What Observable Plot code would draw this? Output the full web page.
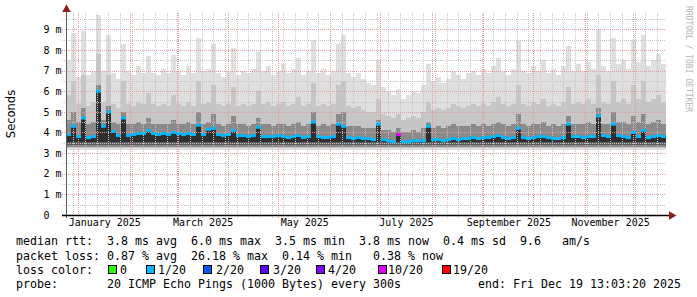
<!DOCTYPE html>
<html>
<head>
<meta charset="utf-8">
<script src="https://cdn.jsdelivr.net/npm/d3@7"></script>
<script src="https://cdn.jsdelivr.net/npm/@observablehq/plot@0.6"></script>
<style>
  html, body { margin: 0; padding: 0; background: #ffffff; }
  #wrap { position: relative; width: 697px; height: 297px; overflow: hidden; background: #fff; }
  #wrap svg { position: absolute; left: 0; top: 0; }
  .leg { position: absolute; left: 16px; font-family: "DejaVu Sans Mono", monospace; font-size: 11.63px; line-height: 14px; white-space: pre; color: #000; }
  .box { position: absolute; width: 7px; height: 7px; border: 1px solid #000; }
  .ylab { position: absolute; font-family: "DejaVu Sans", sans-serif; font-size: 11.5px; color: #000; transform: translate(-50%, -50%) rotate(-90deg); left: 10.5px; top: 114px; white-space: nowrap; }
  .credit { position: absolute; font-family: "DejaVu Sans Mono", monospace; font-size: 8px; color: #b4b4b4; transform: translate(-50%, -50%) rotate(90deg); left: 688px; top: 59px; white-space: nowrap; }
</style>
</head>
<body>
<div id="wrap"></div>
<script>
// ---- time frame (graph end and span) ----
const graphEnd = "2025-12-19T13:03:20Z";
const spanDays = 360;
const binDays = 3;

// ---- per-bin values (ms), 120 bins of 3 days ----
// median rtt
const med = [
  3.9, 4.3, 3.8, 4.7, 3.75, 3.8, 6.0, 4.3, 5.0, 4.05,
  3.85, 4.7, 3.85, 3.9, 3.95, 3.95, 4.1, 3.95, 3.9, 3.95,
  3.9, 4.0, 3.95, 3.9, 3.95, 3.9, 4.35, 3.9, 4.15, 4.2,
  3.9, 3.85, 3.9, 4.1, 3.85, 3.85, 3.8, 3.85, 4.25, 3.8,
  3.8, 3.8, 3.85, 3.8, 3.75, 3.8, 3.85, 3.75, 3.8, 4.5,
  3.8, 3.75, 3.75, 3.8, 4.4, 4.3, 3.75, 3.7, 3.75, 3.7,
  3.7, 3.65, 4.4, 3.65, 3.6, 3.55, 3.9, 3.55, 3.55, 3.6,
  3.6, 3.6, 4.3, 3.65, 3.65, 3.6, 3.65, 3.7, 3.65, 3.7,
  3.7, 3.75, 3.7, 3.75, 3.75, 3.8, 3.85, 3.75, 3.7, 3.75,
  4.2, 3.75, 3.7, 3.75, 3.8, 3.8, 3.75, 3.7, 3.7, 3.75,
  4.4, 3.8, 3.8, 3.75, 3.8, 3.8, 4.8, 3.85, 3.8, 4.4,
  3.85, 3.8, 3.75, 4.0, 3.8, 4.1, 3.75, 3.8, 3.85, 3.8
];
// top of the dark smoke band
const q7 = [
  4.6, 5.0, 4.5, 5.2, 4.4, 4.5, 6.3, 4.6, 5.3, 4.5,
  4.4, 5.0, 4.4, 4.4, 4.5, 4.4, 4.7, 4.4, 4.4, 4.4,
  4.4, 4.6, 4.4, 4.4, 4.5, 4.4, 5.0, 4.4, 4.5, 4.9,
  4.4, 4.3, 4.4, 4.8, 4.4, 4.4, 4.3, 4.4, 4.7, 4.4,
  4.4, 4.3, 4.4, 4.4, 4.3, 4.4, 4.5, 4.3, 4.4, 5.0,
  4.3, 4.4, 4.3, 4.4, 4.9, 5.0, 4.3, 4.3, 4.3, 4.2,
  4.2, 4.2, 4.6, 4.1, 4.1, 4.0, 4.2, 4.0, 4.0, 4.1,
  4.0, 4.2, 4.5, 4.2, 4.3, 4.2, 4.3, 4.4, 4.3, 4.3,
  4.3, 4.4, 4.3, 4.4, 4.3, 4.4, 4.5, 4.4, 4.3, 4.4,
  4.9, 4.4, 4.3, 4.4, 4.4, 4.5, 4.3, 4.4, 4.3, 4.4,
  4.8, 4.4, 4.4, 4.4, 4.5, 4.4, 5.2, 4.4, 4.4, 5.0,
  4.5, 4.5, 4.4, 4.8, 4.5, 4.9, 4.4, 4.5, 4.6, 4.4
];
// top of the mid smoke band
const q9 = [
  5.8, 6.5, 5.4, 6.8, 5.3, 5.5, 7.8, 5.5, 6.8, 5.4,
  5.2, 6.5, 5.4, 5.3, 5.5, 5.4, 5.9, 5.4, 5.3, 5.4,
  5.3, 5.8, 5.4, 5.3, 5.5, 5.3, 6.5, 5.4, 5.5, 6.3,
  5.4, 5.3, 5.4, 6.2, 5.3, 5.4, 5.3, 5.4, 6.0, 5.4,
  5.5, 5.3, 5.4, 5.5, 5.3, 5.4, 5.7, 5.3, 5.4, 6.4,
  5.3, 5.4, 5.3, 5.4, 6.3, 6.5, 5.3, 5.2, 5.3, 5.1,
  5.0, 5.0, 5.6, 4.9, 4.8, 4.7, 4.9, 4.6, 4.7, 4.8,
  4.7, 5.0, 5.5, 5.1, 5.2, 5.1, 5.2, 5.4, 5.3, 5.2,
  5.3, 5.4, 5.3, 5.4, 5.3, 5.5, 5.7, 5.4, 5.3, 5.4,
  6.3, 5.4, 5.3, 5.5, 5.4, 5.6, 5.3, 5.4, 5.3, 5.5,
  6.2, 5.4, 5.5, 5.4, 5.6, 5.4, 6.8, 5.5, 5.4, 6.5,
  5.5, 5.6, 5.4, 6.3, 5.6, 6.5, 5.5, 5.6, 5.8, 5.5
];
// top of the light smoke (max ping)
const mx = [
  7.5, 8.8, 6.7, 8.9, 6.8, 7.0, 9.7, 7.0, 8.7, 6.9,
  6.6, 8.3, 7.0, 6.8, 7.2, 6.9, 7.7, 6.9, 6.8, 7.1,
  6.9, 7.75, 7.0, 6.8, 7.2, 6.9, 8.6, 7.0, 7.1, 8.3,
  6.9, 6.7, 7.0, 8.1, 6.8, 7.0, 6.9, 7.1, 7.9, 7.0,
  7.2, 6.8, 7.0, 7.3, 6.9, 7.1, 7.6, 6.8, 7.0, 8.5,
  6.9, 7.1, 6.8, 7.0, 8.3, 8.7, 6.9, 6.7, 6.9, 6.6,
  6.4, 6.3, 7.5, 6.2, 6.0, 5.8, 6.1, 5.6, 5.8, 6.0,
  5.9, 6.3, 7.3, 6.5, 6.7, 6.4, 6.6, 7.0, 6.8, 6.6,
  6.9, 7.0, 6.8, 7.1, 6.9, 7.2, 7.6, 7.0, 6.8, 7.1,
  8.5, 7.0, 6.9, 7.2, 7.0, 7.5, 6.9, 7.1, 6.8, 7.2,
  8.2, 7.0, 7.3, 7.0, 7.4, 7.1, 9.0, 7.2, 7.0, 8.6,
  7.3, 7.5, 7.1, 8.5, 7.4, 8.7, 7.2, 7.5, 7.8, 7.3
];
// bins with a loss count other than 1/20: [bin index, lost pings]
const lossEvents = [[66, 10]];
const smokeFloor = 3.15;

// ---- axis ticks and labels ----
const yMajor = [0, 1, 2, 3, 4, 5, 6, 7, 8, 9];
const yMinor = [0.5, 1.5, 2.5, 3.5, 4.5, 5.5, 6.5, 7.5, 8.5, 9.5];
const yLabels = ["0", "1 m", "2 m", "3 m", "4 m", "5 m", "6 m", "7 m", "8 m", "9 m"];
const yTop = 9.79;
const xLabels = ["January 2025", "March 2025", "May 2025", "July 2025", "September 2025", "November 2025"];
const xLabelDates = ["2025-01-16T12:00Z", "2025-03-16T12:00Z", "2025-05-16T12:00Z", "2025-07-16T12:00Z", "2025-09-16T00:00Z", "2025-11-16T00:00Z"];

// ---- legend ----
const lossLevels = ["0", "1/20", "2/20", "3/20", "4/20", "10/20", "19/20"];
const lossCounts = [0, 1, 2, 3, 4, 10, 19];
const lossColors = ["#26ff00", "#00b8ff", "#0059ff", "#5e00ff", "#7e00ff", "#dd00ff", "#ff0000"];
const statLines = [
  "median rtt:  3.8 ms avg  6.0 ms max  3.5 ms min  3.8 ms now  0.4 ms sd  9.6   am/s",
  "packet loss: 0.87 % avg  26.18 % max  0.14 % min   0.38 % now",
  "loss color:",
  "probe:       20 ICMP Echo Pings (1000 Bytes) every 300s           end: Fri Dec 19 13:03:20 2025"
];

// ---- build ----
const end = new Date(graphEnd);
const start = d3.utcDay.offset(end, -spanDays);
const lossMap = new Map(lossEvents);
function colorFor(n) {
  let c = lossColors[0];
  lossCounts.forEach((k, j) => { if (n >= k) c = lossColors[j]; });
  return c;
}
const rows = med.map((m, i) => ({
  t0: d3.utcDay.offset(start, i * binDays),
  t1: d3.utcDay.offset(start, (i + 1) * binDays),
  med: m, q7: q7[i], q9: q9[i], mx: mx[i],
  color: colorFor(lossMap.has(i) ? lossMap.get(i) : 1)
}));
const weeks = d3.utcSunday.range(start, end);
const months = d3.utcMonth.range(start, end);
const gridMinor = "#c4c4c4";
const gridMajor = "#e49a9a";
const dash = "1,1";

const chart = Plot.plot({
  width: 697,
  height: 297,
  marginLeft: 66,
  marginRight: 31,
  marginTop: 13,
  marginBottom: 82,
  style: { fontFamily: "DejaVu Sans Mono", fontSize: "10px", background: "transparent", color: "#000" },
  x: { type: "utc", domain: [start, end], axis: null },
  y: { domain: [0, yTop], axis: null },
  marks: [
    // smoke, layered light to dark
    Plot.rect(rows, { x1: "t0", x2: "t1", y1: smokeFloor, y2: "mx", fill: "#dfdfdf", shapeRendering: "crispEdges" }),
    Plot.rect(rows, { x1: "t0", x2: "t1", y1: smokeFloor + 0.08, y2: "q9", fill: "#c6c6c6", shapeRendering: "crispEdges" }),
    Plot.rect(rows, { x1: "t0", x2: "t1", y1: smokeFloor + 0.16, y2: "q7", fill: "#8a8a8a", shapeRendering: "crispEdges" }),
    Plot.rect(rows, { x1: "t0", x2: "t1", y1: smokeFloor + 0.26, y2: "med", fill: "#5c5c5c", shapeRendering: "crispEdges" }),
    Plot.rect(rows, { x1: "t0", x2: "t1", y1: smokeFloor + 0.4, y2: "med", fill: "#2e2e2e", shapeRendering: "crispEdges" }),
    // grid
    Plot.ruleY(yMinor.filter(v => v < yTop), { stroke: gridMinor, strokeDasharray: dash, insetLeft: -4, shapeRendering: "crispEdges" }),
    Plot.ruleX(weeks, { stroke: gridMinor, strokeDasharray: dash, insetBottom: -3, shapeRendering: "crispEdges" }),
    Plot.ruleY(yMajor.slice(1), { stroke: gridMajor, strokeDasharray: dash, insetLeft: -4, shapeRendering: "crispEdges" }),
    Plot.ruleX(months, { stroke: gridMajor, strokeDasharray: dash, insetBottom: -3, shapeRendering: "crispEdges" }),
    // median
    Plot.rect(rows, { x1: "t0", x2: "t1", y1: d => d.med - 0.07, y2: d => d.med + 0.07, fill: "color" }),
    // axes
    Plot.ruleX([start], { stroke: "#5a5a5a", insetTop: -5, insetBottom: -3 }),
    Plot.ruleY([0], { stroke: "#000", strokeWidth: 1.6, insetLeft: -4, insetRight: -3 }),
    Plot.dot([{ t: start, v: yTop }], { x: "t", y: "v", symbol: "triangle", r: 3.2, dy: -4, fill: "#8e1c1c", stroke: "none" }),
    Plot.dot([{ t: end, v: 0 }], { x: "t", y: "v", symbol: "triangle", r: 3.2, rotate: 90, dx: 5, fill: "#8e1c1c", stroke: "none" }),
    // tick labels
    Plot.text(yMajor, { y: d => d, text: (d, i) => yLabels[i], frameAnchor: "left", dx: -23, textAnchor: "start", fontSize: 10, fill: "#000" }),
    Plot.text(xLabelDates, { x: d => new Date(d), text: (d, i) => xLabels[i], frameAnchor: "bottom", dy: 10, fontSize: 10, fill: "#000" })
  ]
});

const wrap = document.getElementById("wrap");
wrap.appendChild(chart);

const ylab = document.createElement("div");
ylab.className = "ylab"; ylab.textContent = "Seconds";
wrap.appendChild(ylab);

const credit = document.createElement("div");
credit.className = "credit"; credit.textContent = "RRDTOOL / TOBI OETIKER";
wrap.appendChild(credit);

const lineTops = [234, 248.5, 262.5, 276.5];
statLines.forEach((s, i) => {
  const d = document.createElement("div");
  d.className = "leg"; d.style.top = lineTops[i] + "px"; d.textContent = s;
  wrap.appendChild(d);
});
const boxX = [108, 146, 203, 260, 316, 378, 442];
const labX = [120, 158, 216, 273, 328, 388, 453];
lossLevels.forEach((lab, i) => {
  const b = document.createElement("div");
  b.className = "box"; b.style.left = boxX[i] + "px"; b.style.top = "265px"; b.style.background = lossColors[i];
  wrap.appendChild(b);
  const t = document.createElement("div");
  t.className = "leg"; t.style.left = labX[i] + "px"; t.style.top = lineTops[2] + "px"; t.textContent = lab;
  wrap.appendChild(t);
});
</script>
</body>
</html>
